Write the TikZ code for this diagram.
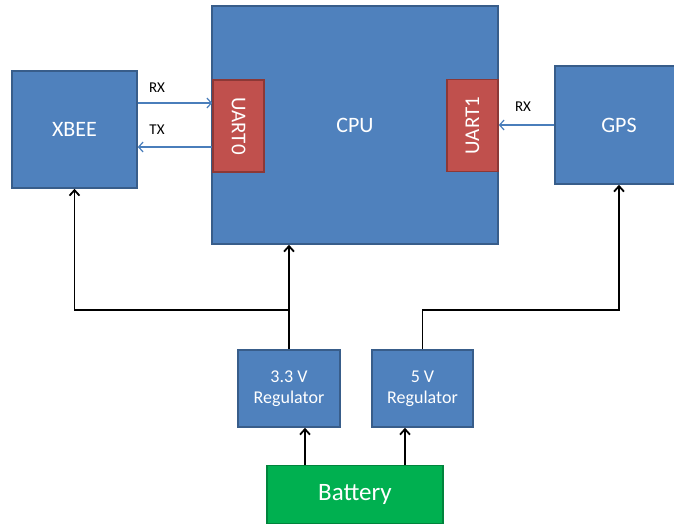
\documentclass[tikz,border=0pt]{standalone}
\usepackage{fontspec}
\setmainfont{Carlito}
\usetikzlibrary{arrows.meta,positioning,calc}
\definecolor{boxfill}{HTML}{4F81BD}
\definecolor{boxline}{HTML}{385D8A}
\definecolor{portfill}{HTML}{C0504D}
\definecolor{portline}{HTML}{8C3836}
\definecolor{battfill}{HTML}{00B050}
\definecolor{battline}{HTML}{00843C}
\definecolor{sigline}{HTML}{4A7EBB}
\tikzset{
  base/.style={align=center, inner sep=2pt, line width=1.6pt, text=white},
  blk/.style={base, fill=boxfill, draw=boxline, font=\fontsize{22}{25}\selectfont},
  reg/.style={blk, minimum height=77pt, font=\fontsize{18}{21}\selectfont},
  port/.style={base, fill=portfill, draw=portline, minimum width=92pt, minimum height=51pt, font=\fontsize{21}{21}\selectfont},
  batt/.style={base, fill=battfill, draw=battline, font=\fontsize{25}{25}\selectfont},
  pwr/.style={-{Straight Barb[length=5.5pt,width=10pt]}, line width=1.8pt, draw=black},
  sig/.style={-{Straight Barb[length=4.5pt,width=10pt]}, line width=1.2pt, draw=sigline},
  lab/.style={font=\fontsize{15}{15}\selectfont, text=black},
}

\begin{document}
\begin{tikzpicture}[x=1pt, y=-1pt]
    \clip (0,0) rectangle (674,525);
    % blocks
    \node[blk, minimum width=286pt, minimum height=238pt] (cpu) at (355,125) {CPU};
    \node[port, rotate=-90] (uart0) at (238.5,126) {UART0};
    \node[port, rotate=90] (uart1) at (472.5,125.5) {UART1};
    \node[blk, minimum width=125pt, minimum height=117pt] (xbee) at (74.5,129.5) {XBEE};
    \node[blk, minimum width=128pt, minimum height=118pt] (gps) at (619,125) {GPS};
    \node[reg, minimum width=102pt] (reg33) at (289,388.5) {3.3 V\\Regulator};
    \node[reg, minimum width=101pt] (reg5) at (422.5,388.5) {5 V\\Regulator};
    \node[batt, minimum width=176pt, minimum height=58pt] (batt) at (355,494.5) {Battery};

    % serial lines
    \draw[sig] ([yshift=26.5pt]xbee.east) -- ([yshift=26.5pt]xbee.east -| uart0.south);
    \draw[sig] ([yshift=-17.5pt]xbee.east -| uart0.south) -- ([yshift=-17.5pt]xbee.east);
    \draw[sig] (gps.west) -- (gps.west -| uart1.south);
    \node[lab] (rx0) at (157,88) {RX};
    \node[lab] (tx0) at (157,130) {TX};
    \node[lab] (rx1) at (523,107) {RX};

    % power
    \coordinate (j33) at (reg33.north |- 0,310);
    \coordinate (j5) at (reg5.north |- j33);
    \draw[pwr] (reg33.north) -- (reg33.north |- cpu.south);
    \draw[pwr] (j33) -| (xbee.south);
    \draw[pwr] (reg5.north) -- (j5) -| (gps.south);
    \draw[pwr] ([xshift=-50pt]batt.north) -- ([xshift=-50pt]batt.north |- reg33.south);
    \draw[pwr] ([xshift=50pt]batt.north) -- ([xshift=50pt]batt.north |- reg5.south);
  \end{tikzpicture}
\end{document}
